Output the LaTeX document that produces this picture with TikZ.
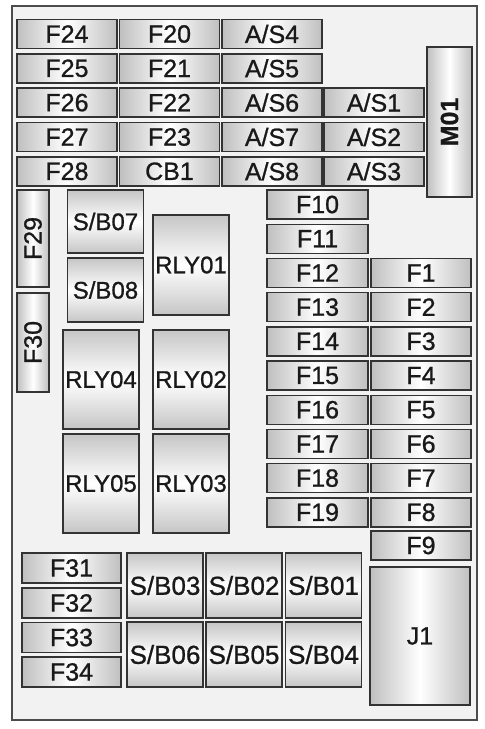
\documentclass[tikz,border=0pt]{standalone}
\usepackage{fontspec}
\setmainfont[FakeBold=0.9]{Liberation Sans}
\begin{document}
\begin{tikzpicture}[x=1pt,y=-1pt]
    % Definizione stili
    \tikzstyle{fusibile}=[draw=black!80, line width=1.4pt, left color=gray!50, right color=gray!50, middle color=white, minimum width=100pt, minimum height=29pt, inner sep=0pt, text=black!90, font=\fontsize{25}{25}\selectfont]
    \tikzstyle{verticale}=[fusibile, top color=gray!45, bottom color=gray!45, middle color=white]
    \tikzstyle{rele}=[verticale, minimum width=76pt, font=\fontsize{24}{24}\selectfont]
    \tikzstyle{ponte}=[rele, minimum height=65pt, font=\fontsize{26}{26}\selectfont]

    \useasboundingbox (0,0) rectangle (485,729);

    % Scatola
    \draw[draw=black!70, line width=2pt, fill=gray!10] (12,6) rectangle (477,720);

    % Fusibili in alto
    \node[fusibile] (f24) at (67,34) {F24};
    \node[fusibile] (f20) at (169.5,34) {F20};
    \node[fusibile] (as4) at (272,34) {A/S4};
    \node[fusibile] (f25) at (67,68.3) {F25};
    \node[fusibile] (f21) at (169.5,68.3) {F21};
    \node[fusibile] (as5) at (272,68.3) {A/S5};
    \node[fusibile] (f26) at (67,102.6) {F26};
    \node[fusibile] (f22) at (169.5,102.6) {F22};
    \node[fusibile] (as6) at (272,102.6) {A/S6};
    \node[fusibile] (as1) at (374,102.6) {A/S1};
    \node[fusibile] (f27) at (67,137) {F27};
    \node[fusibile] (f23) at (169.5,137) {F23};
    \node[fusibile] (as7) at (272,137) {A/S7};
    \node[fusibile] (as2) at (374,137) {A/S2};
    \node[fusibile] (f28) at (67,171.3) {F28};
    \node[fusibile] (cb1) at (169.5,171.3) {CB1};
    \node[fusibile] (as8) at (272,171.3) {A/S8};
    \node[fusibile] (as3) at (374,171.3) {A/S3};
    \node[fusibile, rotate=90, minimum width=150pt, minimum height=45pt, font=\fontsize{25}{25}\selectfont\bfseries] (m01) at (449.5,122) {M01};

    % Fusibili verticali a sinistra
    \node[fusibile, rotate=90, minimum width=97pt, minimum height=32pt] (f29) at (33,238.5) {F29};
    \node[fusibile, rotate=90, minimum width=99pt, minimum height=32pt] (f30) at (33,342.5) {F30};

    % Relè
    \node[rele, minimum height=63pt] (sb07) at (105.5,221.5) {S/B07};
    \node[rele, minimum height=64pt] (sb08) at (105.5,290) {S/B08};
    \node[rele, minimum height=100pt] (rly01) at (191,265) {RLY01};
    \node[rele, minimum height=99pt] (rly04) at (101,379.5) {RLY04};
    \node[rele, minimum height=99pt] (rly02) at (191,379.5) {RLY02};
    \node[rele, minimum height=99pt] (rly05) at (101,483.5) {RLY05};
    \node[rele, minimum height=99pt] (rly03) at (191,483.5) {RLY03};

    % Fusibili a destra
    \node[fusibile, minimum width=101pt] (f10) at (317.5,204.5) {F10};
    \node[fusibile, minimum width=101pt] (f11) at (317.5,238.7) {F11};
    \node[fusibile, minimum width=101pt] (f12) at (317.5,272.9) {F12};
    \node[fusibile, minimum width=101pt] (f13) at (317.5,307.1) {F13};
    \node[fusibile, minimum width=101pt] (f14) at (317.5,341.3) {F14};
    \node[fusibile, minimum width=101pt] (f15) at (317.5,375.5) {F15};
    \node[fusibile, minimum width=101pt] (f16) at (317.5,409.7) {F16};
    \node[fusibile, minimum width=101pt] (f17) at (317.5,443.9) {F17};
    \node[fusibile, minimum width=101pt] (f18) at (317.5,478.1) {F18};
    \node[fusibile, minimum width=101pt] (f19) at (317.5,512.3) {F19};
    \node[fusibile] (f1) at (421,272.9) {F1};
    \node[fusibile] (f2) at (421,307.1) {F2};
    \node[fusibile] (f3) at (421,341.3) {F3};
    \node[fusibile] (f4) at (421,375.5) {F4};
    \node[fusibile] (f5) at (421,409.7) {F5};
    \node[fusibile] (f6) at (421,443.9) {F6};
    \node[fusibile] (f7) at (421,478.1) {F7};
    \node[fusibile] (f8) at (421,512.3) {F8};
    \node[fusibile] (f9) at (421,545.5) {F9};

    % Parte bassa
    \node[fusibile, minimum width=99pt, minimum height=30pt] (f31) at (71.5,568) {F31};
    \node[fusibile, minimum width=99pt, minimum height=30pt] (f32) at (71.5,603) {F32};
    \node[fusibile, minimum width=99pt, minimum height=30pt] (f33) at (71.5,637.5) {F33};
    \node[fusibile, minimum width=99pt, minimum height=30pt] (f34) at (71.5,672) {F34};
    \node[ponte] (sb03) at (165,585.5) {S/B03};
    \node[ponte] (sb02) at (244,585.5) {S/B02};
    \node[ponte] (sb01) at (323.5,585.5) {S/B01};
    \node[ponte] (sb06) at (165,654.5) {S/B06};
    \node[ponte] (sb05) at (244,654.5) {S/B05};
    \node[ponte] (sb04) at (323.5,654.5) {S/B04};
    \node[fusibile, minimum height=138pt] (j1) at (420,636) {J1};
\end{tikzpicture}
\end{document}
